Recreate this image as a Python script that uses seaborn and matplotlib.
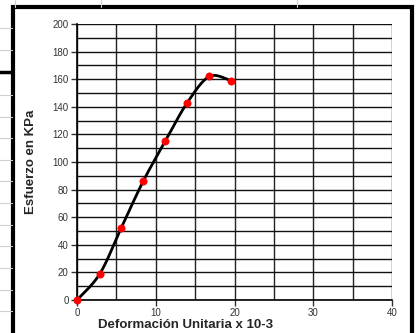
import numpy as np
import pandas as pd
import matplotlib
matplotlib.use("Agg")
import matplotlib.pyplot as plt
import seaborn as sns
from matplotlib.patches import Rectangle
from matplotlib.lines import Line2D

# datos
deformacion = [0.0, 2.9, 5.6, 8.4, 11.2, 14.0, 16.8, 19.5]
esfuerzo = [0.0, 19.0, 52.0, 86.0, 115.0, 143.0, 162.0, 159.0]
x_ticks = [0, 10, 20, 30, 40]
y_ticks = [0, 20, 40, 60, 80, 100, 120, 140, 160, 180, 200]

sns.set_style("white")
plt.rcParams['font.family'] = ['Liberation Sans', 'DejaVu Sans']

df = pd.DataFrame({"x": deformacion, "y": esfuerzo})


# curva suavizada tipo excel (catmull-rom) a partir de los puntos
def suavizar(xs, ys, n=30):
    p = np.column_stack([xs, ys])
    p = np.vstack([p[0], p, p[-1]])
    out = []
    for i in range(1, len(p) - 2):
        p0, p1, p2, p3 = p[i - 1], p[i], p[i + 1], p[i + 2]
        t = np.linspace(0, 1, n)[:, None]
        seg = 0.5 * ((2 * p1) + (-p0 + p2) * t + (2 * p0 - 5 * p1 + 4 * p2 - p3) * t ** 2
                     + (-p0 + 3 * p1 - 3 * p2 + p3) * t ** 3)
        out.append(seg)
    out = np.vstack(out)
    return pd.DataFrame({"x": out[:, 0], "y": out[:, 1]})


curva = suavizar(deformacion, esfuerzo)

fig = plt.figure(figsize=(4.19, 3.33), dpi=100)
fig.patch.set_facecolor("white")

# lineas de la hoja de calculo de fondo
for yy in [0.915, 0.85, 0.715, 0.65, 0.585, 0.52, 0.455, 0.39, 0.325, 0.26, 0.195, 0.13, 0.065]:
    fig.add_artist(Line2D([0, 0.028], [yy, yy], color="#d0d0d0", lw=0.8))
for xx in [0.035, 0.24, 0.71]:
    fig.add_artist(Line2D([xx, xx], [0.98, 1.0], color="#d0d0d0", lw=0.8))
fig.add_artist(Line2D([0, 0.028], [0.783, 0.783], color="black", lw=2.5))

# marco del grafico
fig.add_artist(Rectangle((0.03, -0.05), 0.953, 1.028, fill=False, edgecolor="black", lw=3))

ax = fig.add_axes([0.1838, 0.0991, 0.7518, 0.8289])
ax.set_xlim(0, 40)
ax.set_ylim(0, 200)

# cuadricula
for v in np.arange(0, 41, 5):
    ax.axvline(v, color="#222222", lw=1.0, zorder=1)
for h in np.arange(0, 201, 10):
    ax.axhline(h, color="#111111", lw=1.0, zorder=1)

sns.lineplot(data=curva, x="x", y="y", ax=ax, color="black", lw=2, sort=False, zorder=3)
sns.scatterplot(data=df, x="x", y="y", ax=ax, color="red", s=28, edgecolor="red", zorder=4, clip_on=False)

ax.set_xticks(x_ticks)
ax.set_yticks(y_ticks)
ax.tick_params(axis="both", labelsize=7, colors="#333333", length=4, width=1, direction="out",
               bottom=True, left=True, pad=2)
ax.tick_params(axis="x", pad=1.5)
for s in ["top", "right"]:
    ax.spines[s].set_visible(False)
for s in ["left", "bottom"]:
    ax.spines[s].set_color("black")
    ax.spines[s].set_linewidth(1.2)

ax.set_xlabel("Deformación Unitaria x 10-3", fontsize=9.5, fontweight="bold")
ax.set_ylabel("Esfuerzo en KPa", fontsize=9.5, fontweight="bold", labelpad=11)
ax.xaxis.set_label_coords(0.346, -0.068)

fig.savefig("out.png", dpi=100)
